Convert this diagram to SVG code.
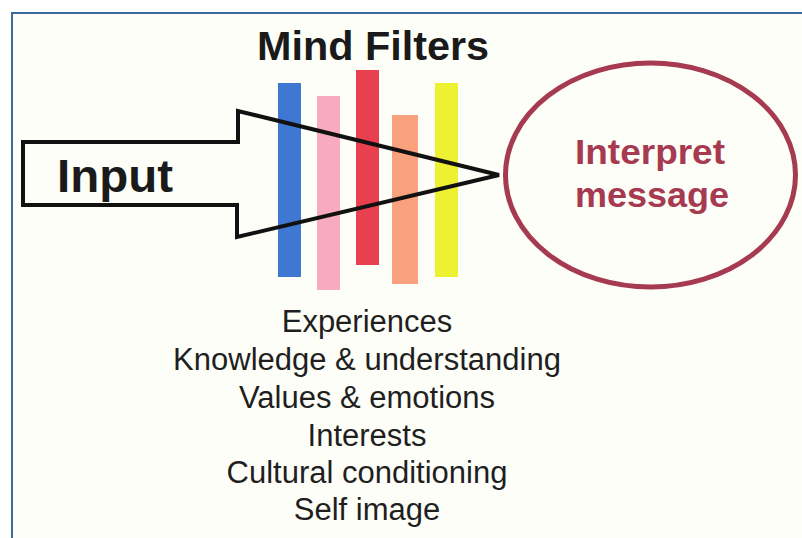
<svg xmlns="http://www.w3.org/2000/svg" width="802" height="538" viewBox="0 0 802 538">
  <style>
    .bar { stroke: none; }
    .title { font-family: "Liberation Sans", Arial, sans-serif; font-weight: bold; fill: #1a1a1a; }
    .node-text { font-family: "Liberation Sans", Arial, sans-serif; font-weight: bold; fill: #a63a50; text-anchor: middle; }
    .list { font-family: "Liberation Sans", Arial, sans-serif; font-size: 31px; fill: #1f1f1f; text-anchor: middle; }
  </style>
  <rect x="0" y="0" width="802" height="538" fill="#ffffff"/>
  <rect x="12" y="13" width="790" height="525" fill="#fefef8"/>
  <path d="M12 538 V13 H802" fill="none" stroke="#3f6a9e" stroke-width="2"/>

  <g id="title">
    <text class="title" x="373" y="60" font-size="41" text-anchor="middle" textLength="232" lengthAdjust="spacingAndGlyphs">Mind Filters</text>
  </g>

  <g id="filters">
    <rect class="bar" x="278" y="83" width="23" height="194" fill="#3f78d2"/>
    <rect class="bar" x="317" y="96" width="23" height="194" fill="#f8aac0"/>
    <rect class="bar" x="356" y="70" width="23" height="195" fill="#e8404f"/>
    <rect class="bar" x="392" y="115" width="26" height="169" fill="#f9a07c"/>
    <rect class="bar" x="435" y="83" width="23" height="194" fill="#eef032"/>
  </g>

  <g id="connectors">
    <path id="input-arrow" d="M23 142 H238 V111 L499 175 L237 237 V205 H23 Z" fill="none" stroke="#111111" stroke-width="4" stroke-linejoin="miter"/>
  </g>

  <g id="input">
    <text class="title" x="57" y="192" font-size="47" textLength="116" lengthAdjust="spacingAndGlyphs">Input</text>
  </g>

  <g id="interpret">
    <ellipse cx="650.5" cy="175" rx="145" ry="112" fill="none" stroke="#a63a50" stroke-width="5"/>
    <text class="node-text" x="650" y="164" font-size="35" textLength="150" lengthAdjust="spacingAndGlyphs">Interpret</text>
    <text class="node-text" x="652" y="207" font-size="35" textLength="154" lengthAdjust="spacingAndGlyphs">message</text>
  </g>

  <g id="filter-list">
    <text class="list" x="367" y="332">Experiences</text>
    <text class="list" x="367" y="370">Knowledge &amp; understanding</text>
    <text class="list" x="367" y="408">Values &amp; emotions</text>
    <text class="list" x="367" y="446">Interests</text>
    <text class="list" x="367" y="483">Cultural conditioning</text>
    <text class="list" x="367" y="520">Self image</text>
  </g>
</svg>
